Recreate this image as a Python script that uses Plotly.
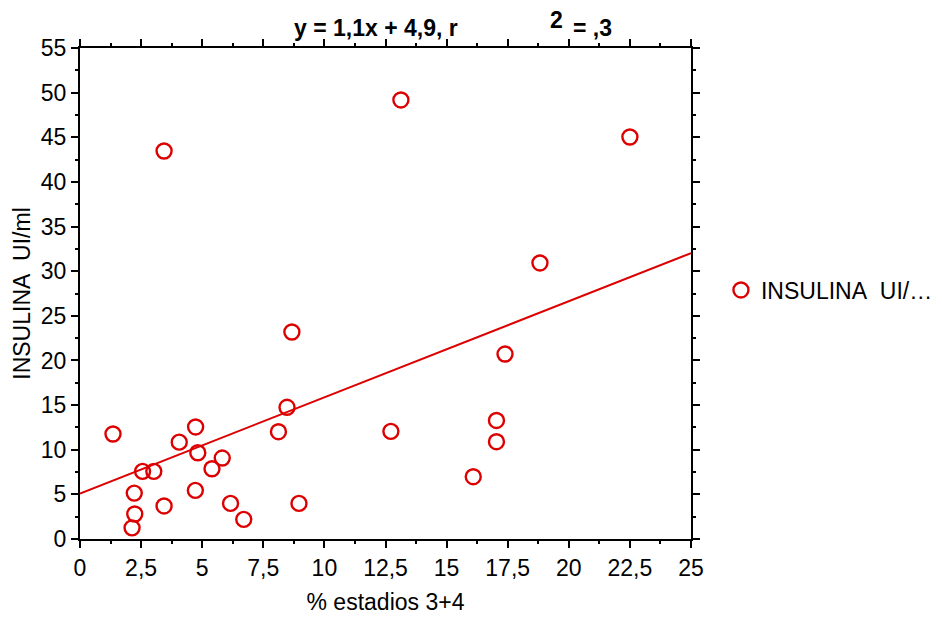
import plotly.graph_objects as go

# Data
x_vals = [1.35, 3.44, 13.13, 22.5, 18.82, 8.67, 17.39, 8.47, 4.73, 4.06, 8.12, 12.72,
          17.04, 17.04, 4.82, 5.82, 5.40, 2.56, 3.02, 16.09, 2.22, 4.72, 3.44, 6.16,
          8.96, 2.24, 6.70, 2.13]
y_vals = [11.76, 43.46, 49.18, 45.03, 30.92, 23.19, 20.72, 14.75, 12.55, 10.85, 12.02, 12.06,
          13.28, 10.90, 9.66, 9.07, 7.87, 7.58, 7.58, 6.98, 5.14, 5.45, 3.70, 3.99,
          3.99, 2.80, 2.20, 1.25]
fit_intercept = 5.1
fit_slope = 1.077
x_range = [0, 25]
y_range = [0, 55]
series_name = "INSULINA\u00a0 UI/\u2026"
x_title = "% estadios 3+4"
y_title = "INSULINA\u00a0 UI/ml"

red = "#dd0000"
FS = 23
font = dict(family="Liberation Sans, Arial, sans-serif", size=FS, color="black")

fig = go.Figure()
fig.add_trace(go.Scatter(
    x=x_range, y=[fit_intercept + fit_slope * v for v in x_range],
    mode="lines", line=dict(color=red, width=2), showlegend=False, hoverinfo="skip"))
fig.add_trace(go.Scatter(
    x=x_vals, y=y_vals, mode="markers", name=series_name,
    marker=dict(symbol="circle-open", size=15, color=red, line=dict(width=2.4, color=red))))

axis_common = dict(showline=True, linecolor="black", linewidth=2, mirror="allticks",
                   ticks="outside", ticklen=7, tickwidth=2, tickcolor="black",
                   showgrid=False, zeroline=False, tickfont=font)
fig.update_xaxes(range=x_range, dtick=2.5, tick0=0, title=dict(text=x_title, font=font, standoff=14),
                 minor=dict(dtick=1.25, ticks="outside", ticklen=3, tickwidth=2, tickcolor="black"),
                 **axis_common)
fig.update_yaxes(range=y_range, dtick=5, tick0=0, title=dict(text=y_title, font=font, standoff=4),
                 minor=dict(dtick=2.5, ticks="outside", ticklen=3, tickwidth=2, tickcolor="black"),
                 **axis_common)

bold = dict(family=font["family"], size=FS, color="black")
fig.add_annotation(text="<b>y = 1,1x + 4,9, r</b>", xref="paper", yref="paper",
                   x=(460 - 80) / 611, y=1.0, xanchor="right", yanchor="bottom", yshift=5,
                   showarrow=False, font=bold)
fig.add_annotation(text="<b>2</b>", xref="paper", yref="paper",
                   x=(556 - 80) / 611, y=1.0, xanchor="center", yanchor="bottom", yshift=13,
                   showarrow=False, font=bold)
fig.add_annotation(text="<b>= ,3</b>", xref="paper", yref="paper",
                   x=(571 - 80) / 611, y=1.0, xanchor="left", yanchor="bottom", yshift=5,
                   showarrow=False, font=bold)

fig.update_layout(
    width=942, height=626, separators=", ",
    margin=dict(l=72, r=259, t=40, b=95),
    paper_bgcolor="white", plot_bgcolor="white",
    font=font,
    legend=dict(x=1.049, y=(539 - 290) / 491, xanchor="left", yanchor="middle",
                font=font, bgcolor="rgba(0,0,0,0)", itemwidth=30),
)
fig.write_html("out.html")
